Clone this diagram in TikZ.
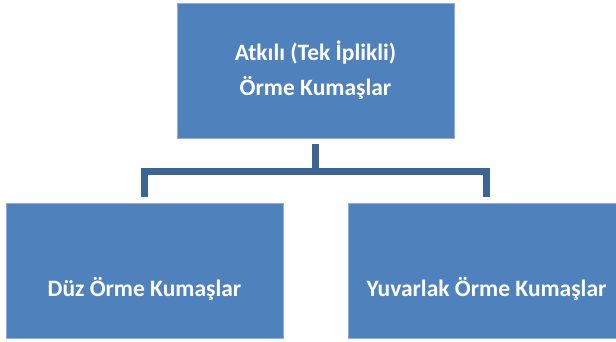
\documentclass[tikz,border=0pt]{standalone}
\usepackage{fontspec}
\setmainfont{Carlito}
\definecolor{boxblue}{HTML}{4F81BD}
\definecolor{boxedge}{HTML}{8FAEDA}
\definecolor{connblue}{HTML}{3C6494}
\begin{document}
\begin{tikzpicture}[x=1pt,y=1pt,
  box/.style={fill=boxblue,draw=boxedge,line width=0.6pt,minimum width=277pt,minimum height=135pt,inner sep=0pt},
  label/.style={text=white,font=\fontsize{23.5}{35}\selectfont\bfseries,align=center},
  conn/.style={draw=connblue,line width=7pt,line join=miter}]
\useasboundingbox (0,0) rectangle (616,-342);
\clip (0,0) rectangle (616,-342);
\node[box] (top) at (315.5,-70.5) {};
\node[box] (left) at (144.5,-270.5) {};
\node[box] (right) at (486.5,-270.5) {};
\node[label] (toptext) at (top.center) {Atkılı (Tek İplikli)\\Örme Kumaşlar};
\node[label] (lefttext) at ([yshift=-18pt]left.center) {Düz Örme Kumaşlar};
\node[label] (righttext) at ([yshift=-18pt]right.center) {Yuvarlak Örme Kumaşlar};
\coordinate (bary) at (0,-171.5);
\draw[conn] ([yshift=-6pt]top.south) -- (top.south |- bary) -| ([yshift=6pt]left.north);
\draw[conn] (top.south |- bary) -| ([yshift=6pt]right.north);
\end{tikzpicture}
\end{document}
